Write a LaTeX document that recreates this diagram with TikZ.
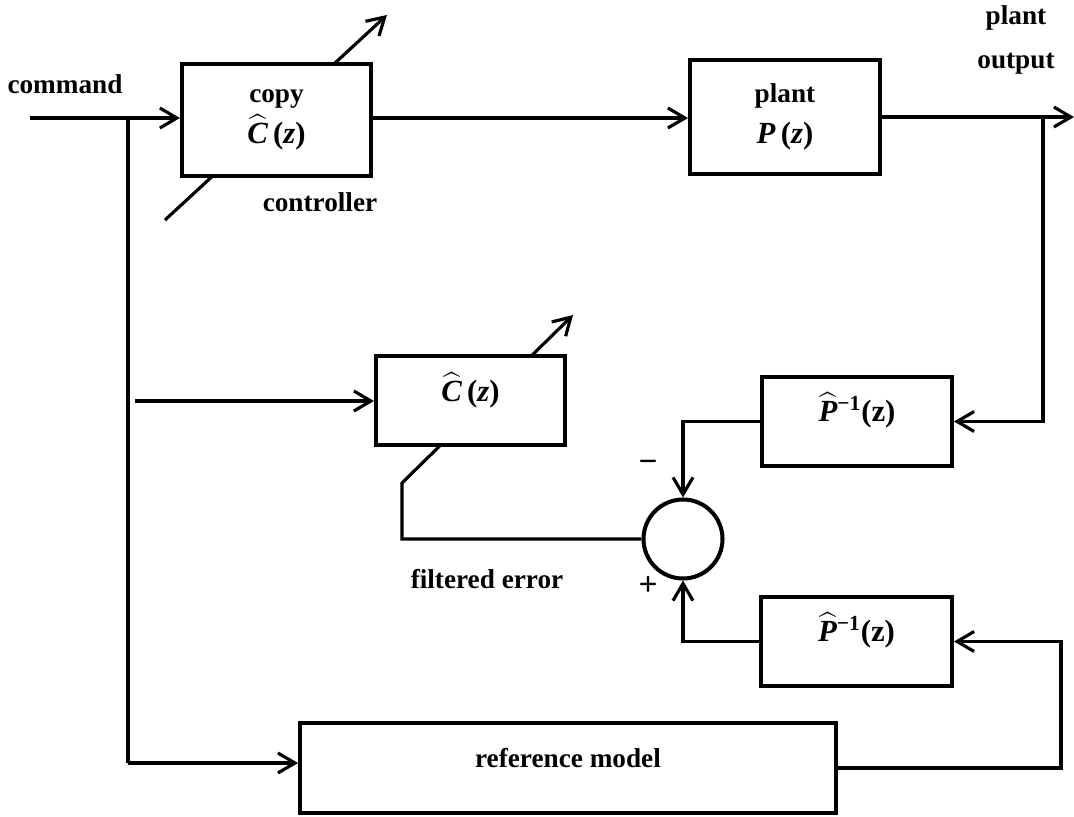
\documentclass[tikz,border=0pt]{standalone}
\usepackage{amsmath}
\usepackage[no-math]{fontspec}
\setmainfont{Liberation Serif}
\usetikzlibrary{arrows.meta,backgrounds,calc}
% bold italic letter under a wide hat, set in the text font
\newcommand{\hatsym}[1]{$\widehat{\text{\bfseries\itshape #1}}$}
\newcommand{\invsup}{$^{\text{\bfseries −1}}$}
\newcommand{\formula}[1]{{\fontsize{17.5}{23}\selectfont #1}}

\begin{document}
\begin{tikzpicture}[x=0.02cm,y=-0.02cm,
  every node/.style={font=\fontsize{15.5}{23}\selectfont\bfseries},
  block/.style={draw,line width=2.3pt,fill=white,inner sep=0pt},
  wire/.style={line width=1.8pt},
  sig/.style={wire,-{Straight Barb[length=3.4mm,width=4mm]}},
  sign/.style={font=\fontsize{19}{19}\selectfont\bfseries}
]
\useasboundingbox (0,0) rectangle (1074,817);

% blocks
\node[block,minimum width=3.78cm,minimum height=2.24cm,align=center] (copy) at (276.5,120)
  {copy\\\formula{\hatsym{C}\,(\textit{z})}};
\node[block,minimum width=3.8cm,minimum height=2.28cm,align=center] (plant) at (785,117)
  {plant\\\formula{\textit{P}\,(\textit{z})}};
\node[block,minimum width=3.78cm,minimum height=1.78cm] (chat) at (470.5,400.5) {};
\node (chat-t) at (470.5,390) {\formula{\hatsym{C}\,(\textit{z})}};
\node[block,minimum width=3.8cm,minimum height=1.78cm] (pinv1) at (857,421.5) {};
\node (pinv1-t) at (857,410) {\formula{\hatsym{P}\invsup(z)}};
\node[block,minimum width=3.82cm,minimum height=1.78cm] (pinv2) at (856.5,641.5) {};
\node (pinv2-t) at (856.5,630) {\formula{\hatsym{P}\invsup(z)}};
\node[draw,circle,line width=2.3pt,minimum size=1.58cm,inner sep=0pt] (sum) at (683,539) {};
\node[block,minimum width=10.72cm,minimum height=1.8cm] (ref) at (568,768) {};
\node (ref-t) at (568,758) {reference model};

% labels
\node (cmd-l) at (65,84) {command};
\node (ctrl-l) at (320,202) {controller};
\node[align=center] (out-l) at (1016,40) {plant\\[2pt]output};
\node (fe-l) at (487,579) {filtered error};
\node[sign] (minus) at (648,466) {−};
\node[sign] (plus) at (648,586) {+};

% free ends and corners
\coordinate (cmd) at (30,118);
\coordinate (br) at (128,118);
\coordinate (brd) at (128,763);
\coordinate (cin) at (135,401);
\coordinate (out) at (1074,117);
\coordinate (obr) at (1043,117);

% signal paths
\draw[sig] (cmd) -- (cmd -| copy.west);
\draw[wire] (br) -- (brd);
\draw[sig] (brd) -- (brd -| ref.west);
\draw[sig] (cin) -- (cin -| chat.west);
\draw[sig] (cmd -| copy.east) -- (cmd -| plant.west);
\draw[sig] (plant.east) -- (out);
\draw[sig] (obr) |- (pinv1.east);
\draw[sig] (pinv1.west) -| (sum.north);
\draw[sig] (pinv2.west) -| (sum.south);
\draw[sig] (ref.east) -| ($(pinv2.east)+(107,0)$) -- (pinv2.east);

% adaptation arrows passing behind the controller boxes
\begin{scope}[on background layer]
  \coordinate (a1) at (165,220);
  \coordinate (a2) at (387,15);
  \draw[sig] (a1) -- (a2);
  \coordinate (fe1) at (402,539);
  \coordinate (fe2) at (402,483);
  \coordinate (fe3) at (573,315);
  \draw[sig] (sum.west) -- (fe1) -- (fe2) -- (fe3);
\end{scope}
\end{tikzpicture}
\end{document}
